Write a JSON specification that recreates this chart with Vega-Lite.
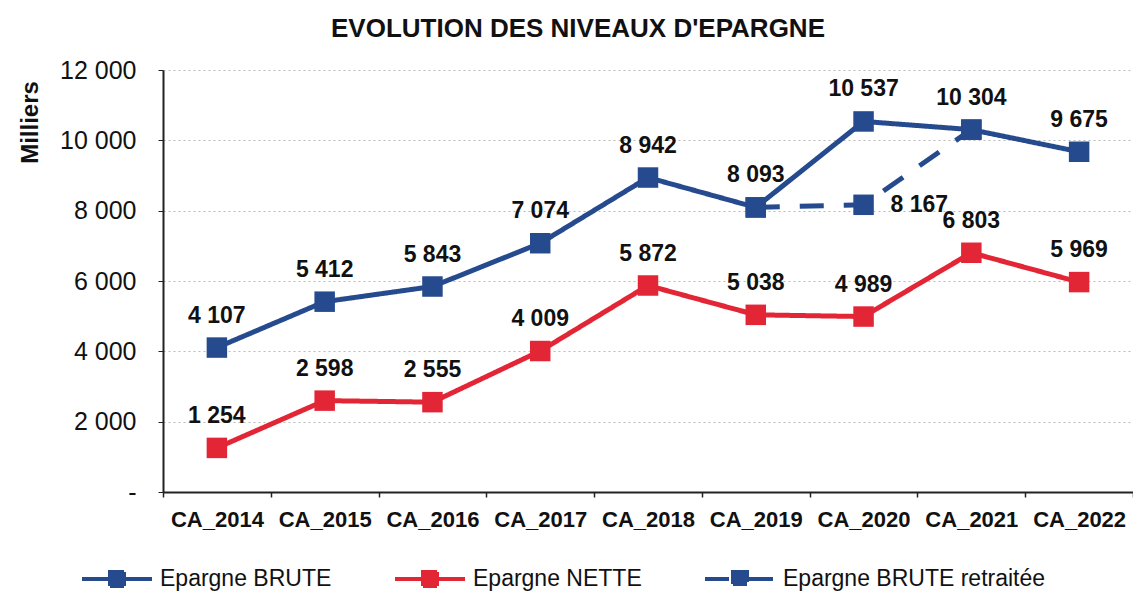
{
  "$schema": "https://vega.github.io/schema/vega-lite/v6.json",
  "autosize": {"type": "none"},
  "padding": {"left": 163, "top": 70, "right": 0, "bottom": 107},
  "width": 970,
  "height": 422,
  "background": "white",
  "title": {
    "text": "EVOLUTION DES NIVEAUX D'EPARGNE",
    "font": "Liberation Sans",
    "fontSize": 26,
    "fontWeight": "bold",
    "color": "#111",
    "anchor": "middle",
    "dx": -70,
    "offset": 16
  },
  "config": {
    "locale": {"number": {"decimal": ",", "thousands": " ", "grouping": [3], "currency": ["", " €"]}},
    "view": {"stroke": null},
    "font": "Liberation Sans"
  },
  "data": {
    "values": [
      {"annee": "CA_2014", "serie": "Epargne BRUTE", "valeur": 4107},
      {"annee": "CA_2015", "serie": "Epargne BRUTE", "valeur": 5412},
      {"annee": "CA_2016", "serie": "Epargne BRUTE", "valeur": 5843},
      {"annee": "CA_2017", "serie": "Epargne BRUTE", "valeur": 7074},
      {"annee": "CA_2018", "serie": "Epargne BRUTE", "valeur": 8942},
      {"annee": "CA_2019", "serie": "Epargne BRUTE", "valeur": 8093},
      {"annee": "CA_2020", "serie": "Epargne BRUTE", "valeur": 10537},
      {"annee": "CA_2021", "serie": "Epargne BRUTE", "valeur": 10304},
      {"annee": "CA_2022", "serie": "Epargne BRUTE", "valeur": 9675},
      {"annee": "CA_2014", "serie": "Epargne NETTE", "valeur": 1254},
      {"annee": "CA_2015", "serie": "Epargne NETTE", "valeur": 2598},
      {"annee": "CA_2016", "serie": "Epargne NETTE", "valeur": 2555},
      {"annee": "CA_2017", "serie": "Epargne NETTE", "valeur": 4009},
      {"annee": "CA_2018", "serie": "Epargne NETTE", "valeur": 5872},
      {"annee": "CA_2019", "serie": "Epargne NETTE", "valeur": 5038},
      {"annee": "CA_2020", "serie": "Epargne NETTE", "valeur": 4989},
      {"annee": "CA_2021", "serie": "Epargne NETTE", "valeur": 6803},
      {"annee": "CA_2022", "serie": "Epargne NETTE", "valeur": 5969},
      {"annee": "CA_2019", "serie": "Epargne BRUTE retraitée", "valeur": 8093},
      {"annee": "CA_2020", "serie": "Epargne BRUTE retraitée", "valeur": 8167},
      {"annee": "CA_2021", "serie": "Epargne BRUTE retraitée", "valeur": 10304}
    ]
  },
  "encoding": {
    "x": {
      "field": "annee",
      "type": "ordinal",
      "scale": {"type": "band", "paddingInner": 0, "paddingOuter": 0},
      "axis": {
        "title": null,
        "labelAngle": 0,
        "labelFont": "Liberation Sans",
        "labelFontSize": 22,
        "labelFontWeight": "bold",
        "labelColor": "#111",
        "labelPadding": 12,
        "domainColor": "#222",
        "domainWidth": 2,
        "tickColor": "#222",
        "tickSize": 5,
        "tickWidth": 1.5,
        "tickBand": "extent",
        "grid": false
      }
    },
    "y": {
      "field": "valeur",
      "type": "quantitative",
      "scale": {"domain": [0, 12000]},
      "axis": {
        "title": "Milliers",
        "titleFont": "Liberation Sans",
        "titleFontSize": 24,
        "titleFontWeight": "bold",
        "titleColor": "#111",
        "titleAngle": -90,
        "titleX": -133,
        "titleY": 52,
        "titleAlign": "center",
        "titleBaseline": "middle",
        "values": [0, 2000, 4000, 6000, 8000, 10000, 12000],
        "format": ",d",
        "labelExpr": "datum.value == 0 ? '-' : datum.label",
        "labelFont": "Liberation Sans",
        "labelFontSize": 25,
        "labelColor": "#111",
        "labelPadding": 22,
        "domainColor": "#222",
        "domainWidth": 2,
        "tickColor": "#222",
        "tickSize": 5,
        "grid": true,
        "gridColor": "#bbbbbb",
        "gridDash": [2, 3],
        "gridWidth": 1
      }
    }
  },
  "layer": [
    {
      "mark": {"type": "line", "strokeWidth": 5},
      "encoding": {
        "color": {
          "field": "serie",
          "type": "nominal",
          "scale": {
            "domain": ["Epargne BRUTE", "Epargne NETTE", "Epargne BRUTE retraitée"],
            "range": ["#264A8E", "#E32636", "#264A8E"]
          },
          "legend": {
            "title": null,
            "orient": "none",
            "direction": "horizontal",
            "legendX": -83,
            "legendY": 472,
            "labelFont": "Liberation Sans",
            "labelFontSize": 23,
            "labelColor": "#111",
            "labelOffset": 6,
            "labelLimit": 400,
            "columnPadding": 55,
            "symbolType": "M-1,0H1M-0.2,-0.2H0.2V0.2H-0.2Z",
            "symbolSize": 4900,
            "symbolStrokeWidth": 4,
            "encode": {
              "symbols": {
                "update": {
                  "fill": {"scale": "color", "field": "value"},
                  "strokeDash": {"signal": "datum.value == 'Epargne BRUTE retraitée' ? [20,6] : [1,0]"}
                }
              }
            }
          }
        },
        "strokeDash": {
          "field": "serie",
          "type": "nominal",
          "scale": {
            "domain": ["Epargne BRUTE", "Epargne NETTE", "Epargne BRUTE retraitée"],
            "range": [[1, 0], [1, 0], [24, 20]]
          },
          "legend": null
        }
      }
    },
    {
      "mark": {"type": "point", "shape": "square", "filled": true, "size": 420, "opacity": 1},
      "encoding": {
        "color": {"field": "serie", "type": "nominal"}
      }
    },
    {
      "transform": [{"filter": "datum.serie != 'Epargne BRUTE retraitée'"}],
      "mark": {"type": "text", "dy": -32, "font": "Liberation Sans", "fontSize": 23, "fontWeight": "bold", "color": "#111", "baseline": "middle"},
      "encoding": {
        "text": {"field": "valeur", "type": "quantitative", "format": ",d"}
      }
    },
    {
      "transform": [{"filter": "datum.serie == 'Epargne BRUTE retraitée' && datum.annee == 'CA_2020'"}],
      "mark": {"type": "text", "dx": 27, "dy": 0, "align": "left", "font": "Liberation Sans", "fontSize": 23, "fontWeight": "bold", "color": "#111", "baseline": "middle"},
      "encoding": {
        "text": {"field": "valeur", "type": "quantitative", "format": ",d"}
      }
    }
  ]
}
